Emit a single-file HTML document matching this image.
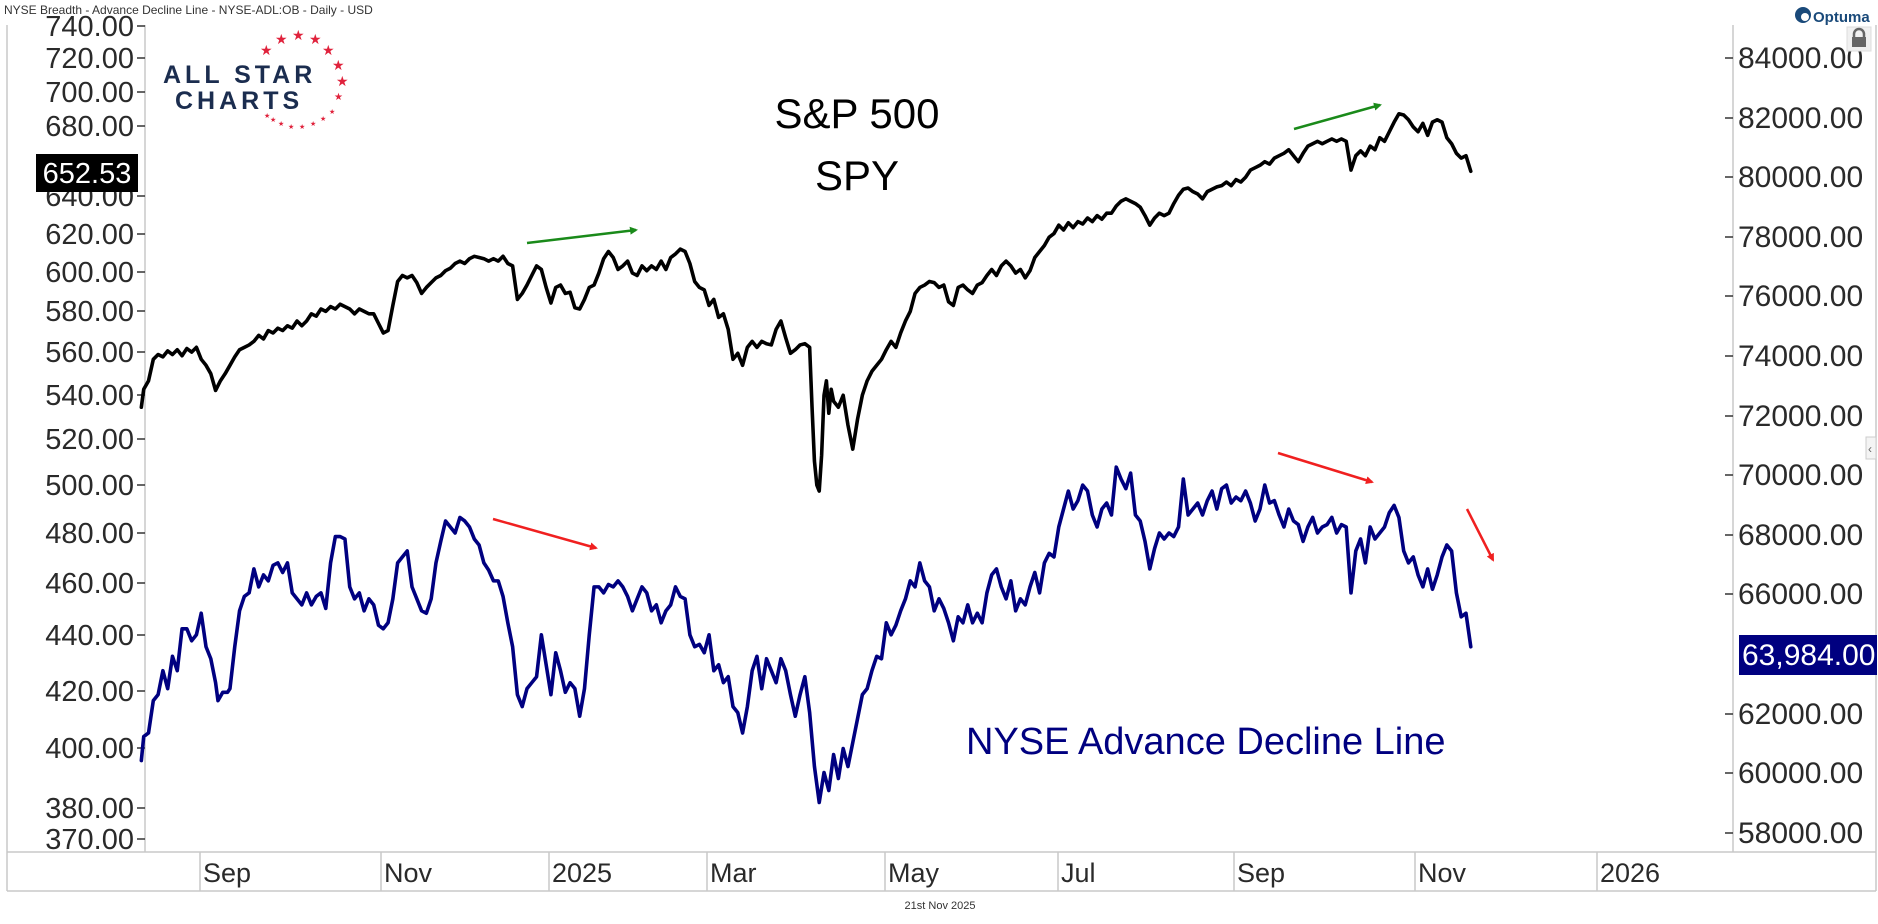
<!DOCTYPE html>
<html><head><meta charset="utf-8"><style>
html,body{margin:0;padding:0;background:#fff;}
svg{display:block;font-family:"Liberation Sans",sans-serif;}
</style></head><body>
<svg width="1878" height="924" viewBox="0 0 1878 924" xmlns="http://www.w3.org/2000/svg">
<rect width="1878" height="924" fill="#fff"/>
<text x="4" y="14" font-size="12" fill="#333">NYSE Breadth - Advance Decline Line - NYSE-ADL:OB - Daily - USD</text>
<!-- frame -->
<g stroke="#c8c8c8" stroke-width="1.5" fill="none">
<line x1="7" y1="25" x2="7" y2="891"/>
<line x1="145" y1="25" x2="145" y2="852"/>
<line x1="1733" y1="25" x2="1733" y2="852"/>
<line x1="1876" y1="25" x2="1876" y2="891"/>
<line x1="7" y1="852" x2="1876" y2="852"/>
<line x1="7" y1="891" x2="1876" y2="891"/>
<line x1="200" y1="852" x2="200" y2="891"/>
<line x1="381" y1="852" x2="381" y2="891"/>
<line x1="549" y1="852" x2="549" y2="891"/>
<line x1="707" y1="852" x2="707" y2="891"/>
<line x1="885" y1="852" x2="885" y2="891"/>
<line x1="1058" y1="852" x2="1058" y2="891"/>
<line x1="1234" y1="852" x2="1234" y2="891"/>
<line x1="1415" y1="852" x2="1415" y2="891"/>
<line x1="1597" y1="852" x2="1597" y2="891"/>
</g>
<!-- x labels -->
<g font-size="27" fill="#2a2a2a">
<text x="203" y="882">Sep</text><text x="384" y="882">Nov</text><text x="552" y="882">2025</text>
<text x="710" y="882">Mar</text><text x="888" y="882">May</text><text x="1061" y="882">Jul</text>
<text x="1237" y="882">Sep</text><text x="1418" y="882">Nov</text><text x="1600" y="882">2026</text>
</g>
<text x="940" y="909" font-size="11" fill="#333" text-anchor="middle">21st Nov 2025</text>
<!-- left axis -->
<g font-size="29" fill="#2a2a2a" text-anchor="end">
<text x="134" y="36">740.00</text><text x="134" y="68">720.00</text><text x="134" y="102">700.00</text>
<text x="134" y="136">680.00</text><text x="134" y="206">640.00</text><text x="134" y="244">620.00</text>
<text x="134" y="282">600.00</text><text x="134" y="321">580.00</text><text x="134" y="362">560.00</text>
<text x="134" y="405">540.00</text><text x="134" y="449">520.00</text><text x="134" y="495">500.00</text>
<text x="134" y="543">480.00</text><text x="134" y="593">460.00</text><text x="134" y="645">440.00</text>
<text x="134" y="701">420.00</text><text x="134" y="758">400.00</text><text x="134" y="818">380.00</text>
<text x="134" y="849">370.00</text>
</g>
<g stroke="#333" stroke-width="1.5">
<line x1="137" y1="26" x2="145" y2="26"/><line x1="137" y1="58" x2="145" y2="58"/><line x1="137" y1="92" x2="145" y2="92"/>
<line x1="137" y1="126" x2="145" y2="126"/><line x1="137" y1="196" x2="145" y2="196"/><line x1="137" y1="234" x2="145" y2="234"/>
<line x1="137" y1="272" x2="145" y2="272"/><line x1="137" y1="311" x2="145" y2="311"/><line x1="137" y1="352" x2="145" y2="352"/>
<line x1="137" y1="395" x2="145" y2="395"/><line x1="137" y1="439" x2="145" y2="439"/><line x1="137" y1="485" x2="145" y2="485"/>
<line x1="137" y1="533" x2="145" y2="533"/><line x1="137" y1="583" x2="145" y2="583"/><line x1="137" y1="635" x2="145" y2="635"/>
<line x1="137" y1="691" x2="145" y2="691"/><line x1="137" y1="748" x2="145" y2="748"/><line x1="137" y1="808" x2="145" y2="808"/>
<line x1="137" y1="839" x2="145" y2="839"/>
<!-- right ticks -->
<line x1="1725" y1="58" x2="1733" y2="58"/><line x1="1725" y1="118" x2="1733" y2="118"/><line x1="1725" y1="177" x2="1733" y2="177"/>
<line x1="1725" y1="237" x2="1733" y2="237"/><line x1="1725" y1="296" x2="1733" y2="296"/><line x1="1725" y1="356" x2="1733" y2="356"/>
<line x1="1725" y1="416" x2="1733" y2="416"/><line x1="1725" y1="475" x2="1733" y2="475"/><line x1="1725" y1="535" x2="1733" y2="535"/>
<line x1="1725" y1="594" x2="1733" y2="594"/><line x1="1725" y1="714" x2="1733" y2="714"/><line x1="1725" y1="773" x2="1733" y2="773"/>
<line x1="1725" y1="833" x2="1733" y2="833"/>
</g>
<rect x="36" y="154" width="102" height="38" fill="#000"/>
<text x="87" y="183" font-size="29" fill="#fff" text-anchor="middle">652.53</text>
<!-- right axis -->
<g font-size="30" fill="#2a2a2a">
<text x="1738" y="68">84000.00</text><text x="1738" y="128">82000.00</text><text x="1738" y="187">80000.00</text>
<text x="1738" y="247">78000.00</text><text x="1738" y="306">76000.00</text><text x="1738" y="366">74000.00</text>
<text x="1738" y="426">72000.00</text><text x="1738" y="485">70000.00</text><text x="1738" y="545">68000.00</text>
<text x="1738" y="604">66000.00</text><text x="1738" y="724">62000.00</text><text x="1738" y="783">60000.00</text>
<text x="1738" y="843">58000.00</text>
</g>
<rect x="1739" y="635" width="138" height="40" fill="#000080"/>
<text x="1742" y="665" font-size="30" fill="#fff">63,984.00</text>
<!-- optuma + lock -->
<circle cx="1803" cy="15" r="8" fill="#1a4a7a"/><circle cx="1805" cy="17" r="4" fill="#fff"/>
<text x="1813" y="22" font-size="15" font-weight="bold" fill="#1a4a7a">Optuma</text>
<rect x="1847" y="27" width="24" height="24" fill="#f0f0f0" stroke="#ddd"/>
<rect x="1852" y="37" width="14" height="10" fill="#666"/>
<path d="M1854 37 v-3 a5 5 0 0 1 10 0 v3" stroke="#666" stroke-width="2.5" fill="none"/>
<rect x="1866" y="437" width="10" height="22" fill="#f4f4f4" stroke="#ccc"/>
<text x="1868" y="453" font-size="12" fill="#666">‹</text>
<!-- logo -->
<text x="163" y="83" font-size="25" font-weight="bold" fill="#1b2d4f" letter-spacing="4">ALL STAR</text>
<text x="175" y="109" font-size="25" font-weight="bold" fill="#1b2d4f" letter-spacing="4">CHARTS</text>
<g fill="#e0223c" font-size="14">
<text x="260" y="55">★</text><text x="275" y="44">★</text><text x="292" y="40">★</text><text x="309" y="44">★</text>
<text x="322" y="55">★</text><text x="332" y="70">★</text><text x="336" y="86">★</text><text x="334" y="100" font-size="10">★</text>
</g>
<g fill="#e0223c" font-size="7">
<text x="329" y="114">★</text><text x="320" y="121">★</text><text x="310" y="126">★</text><text x="299" y="129">★</text>
<text x="288" y="129">★</text><text x="278" y="126">★</text><text x="270" y="122">★</text><text x="264" y="118">★</text>
</g>
<!-- titles -->
<text x="857" y="128" font-size="42" fill="#000" text-anchor="middle">S&amp;P 500</text>
<text x="857" y="190" font-size="42" fill="#000" text-anchor="middle">SPY</text>
<text x="966" y="754" font-size="38" fill="#000080">NYSE Advance Decline Line</text>
<!-- series -->
<g transform="scale(1.1977)" fill="none" stroke-linejoin="round" stroke-linecap="round">
<polyline stroke="#000" stroke-width="3" points="118,340 120,325 124,318 128,300 132,296 136,298 140,293 144,296 148,292 152,297 156,291 160,294 164,290 168,300 172,305 176,312 180,326 184,318 188,312 192,305 196,298 200,292 204,290 208,288 212,285 216,280 220,283 224,276 228,278 232,274 236,276 240,272 244,274 248,268 252,272 256,268 260,262 264,264 268,258 272,260 276,256 280,258 284,254 288,256 292,258 296,262 300,258 304,260 308,262 312,262 316,270 320,278 324,276 328,255 332,235 336,230 340,232 344,230 348,236 352,245 356,240 360,236 364,232 368,230 372,226 376,224 380,220 384,218 388,220 392,216 396,214 400,215 404,216 408,218 412,216 416,218 420,214 424,220 428,222 432,250 436,245 440,238 444,230 448,222 452,225 456,240 460,253 464,240 468,238 472,245 476,244 480,257 484,258 488,250 492,240 496,238 500,228 504,216 508,210 512,215 516,225 520,222 524,218 528,228 532,230 536,222 540,226 544,222 548,225 552,218 556,225 560,215 564,212 568,208 572,210 576,220 580,235 584,240 588,242 592,255 596,250 600,265 604,262 608,275 612,300 616,295 620,305 624,290 628,285 632,290 636,285 640,287 644,288 648,275 652,268 656,282 660,295 664,292 668,288 672,287 676,290 678,340 680,385 682,405 684,410 686,380 688,330 690,318 692,345 694,325 696,335 700,340 704,330 708,355 712,375 716,350 720,330 724,318 728,310 732,305 736,300 740,292 744,285 748,290 752,278 756,268 760,260 764,245 768,240 772,238 776,235 780,236 784,240 788,238 792,252 796,255 800,240 804,238 808,242 812,245 816,238 820,236 824,230 828,225 832,230 836,222 840,218 844,222 848,228 852,225 856,232 860,226 864,215 868,210 872,205 876,198 880,195 884,188 888,192 892,186 896,190 900,185 904,187 908,182 912,185 916,180 920,183 924,178 928,178 932,172 936,168 940,166 944,168 948,170 952,173 956,180 960,188 964,182 968,178 972,180 976,178 980,170 984,163 988,158 992,157 996,160 1000,162 1004,166 1008,160 1012,158 1016,156 1020,155 1024,152 1028,155 1032,150 1036,152 1040,148 1044,142 1048,140 1052,138 1056,135 1060,137 1064,132 1068,130 1072,128 1076,125 1080,130 1084,135 1088,128 1092,122 1096,120 1100,118 1104,120 1108,118 1112,116 1116,118 1120,116 1124,118 1128,142 1132,130 1136,126 1140,130 1144,122 1148,125 1152,115 1156,118 1160,110 1164,102 1168,95 1172,96 1176,100 1180,106 1184,110 1188,103 1192,113 1196,102 1200,100 1204,102 1208,115 1212,120 1216,128 1220,132 1224,130 1228,143"/>
<polyline stroke="#000080" stroke-width="3" points="118,635 120,615 124,612 128,585 132,580 136,560 140,575 144,548 148,560 152,525 156,525 160,535 164,530 168,512 172,540 176,550 180,570 182,585 186,578 190,578 192,575 196,540 200,510 204,498 208,495 212,475 216,490 220,480 224,485 228,472 232,470 236,478 240,470 244,495 248,500 252,505 256,495 260,505 264,498 268,495 272,508 276,470 280,448 284,448 288,450 292,490 296,500 300,495 304,510 308,500 312,505 316,522 320,525 324,520 328,500 332,470 336,465 340,460 344,490 348,500 352,510 356,512 360,500 364,470 368,452 372,435 376,440 380,445 384,432 388,435 392,440 396,450 400,455 404,470 408,476 412,485 416,485 420,498 424,520 428,540 432,580 436,590 440,575 444,570 448,565 452,530 456,555 460,580 464,545 468,560 472,578 476,570 480,575 484,598 488,575 492,530 496,490 500,490 504,495 508,488 512,490 516,485 520,490 524,498 528,510 532,500 536,490 540,495 544,510 548,505 552,520 556,510 560,505 564,490 568,498 572,500 576,530 580,540 584,538 588,545 592,530 596,560 600,555 604,570 608,565 612,590 616,595 620,612 624,590 628,560 632,548 636,575 640,550 644,560 648,570 652,550 656,560 660,580 664,598 668,580 672,565 676,595 680,640 684,670 688,645 692,660 696,630 700,650 704,625 708,640 712,620 716,600 720,580 724,575 728,560 732,548 736,550 740,520 744,530 748,522 752,510 756,500 760,485 764,490 768,470 772,485 776,490 780,510 784,500 788,508 792,520 796,535 800,515 804,520 808,505 812,520 816,512 820,520 824,495 828,480 832,475 836,490 840,500 844,485 848,510 852,500 856,505 860,490 864,478 868,495 872,470 876,462 880,465 884,440 888,425 892,410 896,425 900,418 904,405 908,410 912,430 916,440 920,425 924,420 928,430 932,390 936,400 940,408 944,395 948,430 952,435 956,452 960,475 964,458 968,445 972,450 976,445 980,448 984,440 988,400 992,430 996,425 1000,420 1004,430 1008,418 1012,410 1016,425 1020,408 1024,405 1028,420 1032,415 1036,418 1040,410 1044,420 1048,435 1052,425 1056,405 1060,420 1064,418 1068,430 1072,440 1076,425 1080,435 1084,438 1088,452 1092,440 1096,432 1100,445 1104,440 1108,438 1112,432 1116,445 1120,438 1124,440 1128,495 1132,460 1136,450 1140,470 1144,440 1148,450 1152,445 1156,440 1160,428 1164,422 1168,432 1172,460 1176,470 1180,465 1184,480 1188,490 1192,475 1196,492 1200,480 1204,465 1208,455 1212,460 1216,495 1220,515 1224,512 1228,540"/>
</g>
<!-- arrows -->
<defs>
<marker id="ag" markerWidth="8" markerHeight="8" refX="6" refY="4" orient="auto" markerUnits="userSpaceOnUse"><path d="M0,0 L8,4 L0,8 z" fill="#1a8a1a"/></marker>
<marker id="ar" markerWidth="8" markerHeight="8" refX="6" refY="4" orient="auto" markerUnits="userSpaceOnUse"><path d="M0,0 L8,4 L0,8 z" fill="#f02020"/></marker>
</defs>
<g stroke-width="2.5">
<line x1="527" y1="243" x2="636" y2="230" stroke="#1a8a1a" marker-end="url(#ag)"/>
<line x1="1294" y1="129" x2="1380" y2="105" stroke="#1a8a1a" marker-end="url(#ag)"/>
<line x1="493" y1="519" x2="596" y2="548" stroke="#f02020" marker-end="url(#ar)"/>
<line x1="1278" y1="453" x2="1372" y2="482" stroke="#f02020" marker-end="url(#ar)"/>
<line x1="1467" y1="509" x2="1493" y2="560" stroke="#f02020" marker-end="url(#ar)"/>
</g>
</svg>
</body></html>
